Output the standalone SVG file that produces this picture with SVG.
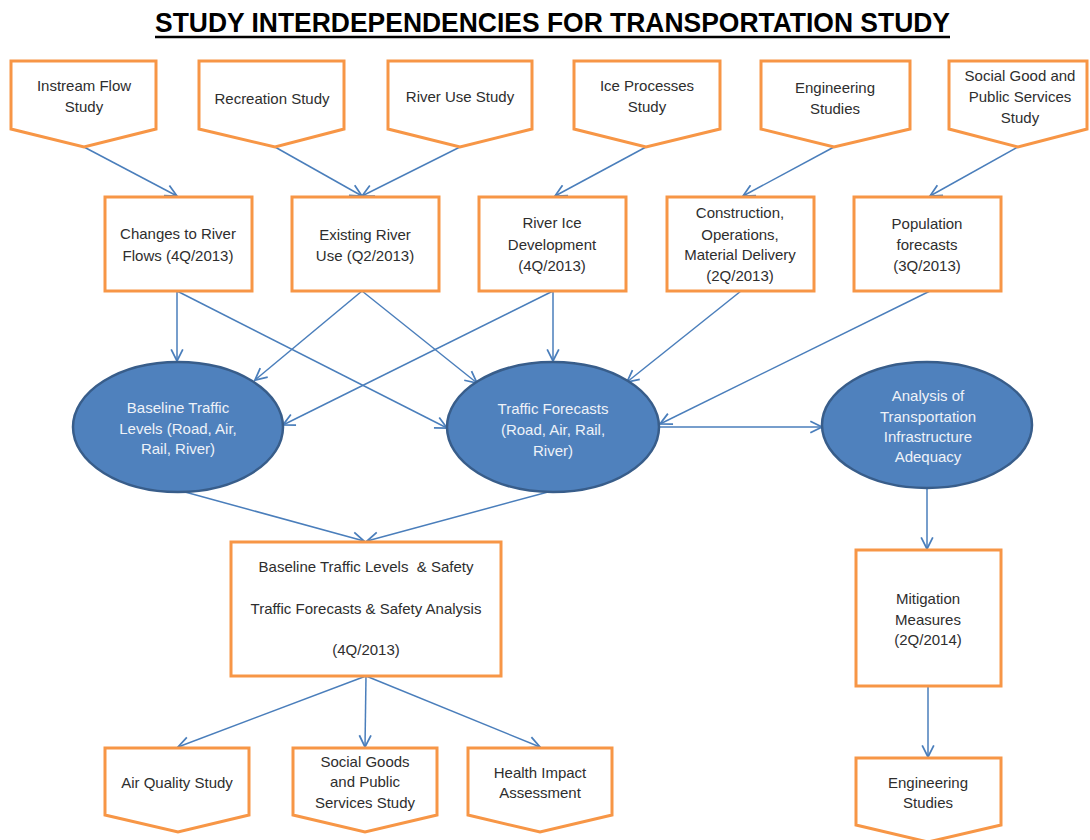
<svg xmlns="http://www.w3.org/2000/svg" width="1090" height="840" viewBox="0 0 1090 840">
<style>
.box{fill:#fff;stroke:#f79646;stroke-width:3;stroke-linejoin:miter}
.ell{fill:#4f81bd;stroke:#385d8a;stroke-width:2.5}
.t{font-family:"Liberation Sans",Arial,sans-serif;font-size:15px;fill:#2e2e2e;text-anchor:middle}
.w{font-family:"Liberation Sans",Arial,sans-serif;font-size:15px;fill:#eef2f8;text-anchor:middle}
.c{fill:none;stroke:#4a7ebb;stroke-width:1.5;marker-end:url(#ah)}
</style>
<defs>
<marker id="ah" markerUnits="userSpaceOnUse" markerWidth="14" markerHeight="14" viewBox="0 0 12 12" refX="11" refY="6" orient="auto">
<path d="M1,1 L11,6 L1,11" fill="none" stroke="#4a7ebb" stroke-width="1.5"/>
</marker>
</defs>
<rect width="1090" height="840" fill="#fff"/>
<g id="title">
<text x="155" y="32" textLength="795" lengthAdjust="spacingAndGlyphs" style="font-family:'Liberation Sans',Arial,sans-serif;font-size:27px;font-weight:bold;fill:#000">STUDY INTERDEPENDENCIES FOR TRANSPORTATION STUDY</text>
<line x1="155" y1="37" x2="950" y2="37" stroke="#000" stroke-width="2.5"/>
</g>
<g id="connectors">
<line class="c" x1="84" y1="147" x2="177" y2="196"/>
<line class="c" x1="275" y1="147" x2="362" y2="196"/>
<line class="c" x1="460" y1="147" x2="362" y2="196"/>
<line class="c" x1="646" y1="147" x2="555" y2="196"/>
<line class="c" x1="834" y1="147" x2="743" y2="196"/>
<line class="c" x1="1018" y1="147" x2="930" y2="196"/>
<line class="c" x1="177" y1="291" x2="177" y2="361"/>
<line class="c" x1="177" y1="291" x2="447" y2="428"/>
<line class="c" x1="362" y1="291" x2="255" y2="380"/>
<line class="c" x1="362" y1="291" x2="477" y2="383"/>
<line class="c" x1="553" y1="291" x2="283" y2="425"/>
<line class="c" x1="553" y1="291" x2="553" y2="361"/>
<line class="c" x1="741" y1="291" x2="627" y2="382"/>
<line class="c" x1="930" y1="291" x2="660" y2="424"/>
<line class="c" x1="660" y1="427" x2="822" y2="427"/>
<line class="c" x1="185" y1="492" x2="364" y2="541"/>
<line class="c" x1="548" y1="492" x2="367" y2="541"/>
<line class="c" x1="366" y1="676" x2="178" y2="747"/>
<line class="c" x1="366" y1="676" x2="365" y2="747"/>
<line class="c" x1="366" y1="676" x2="540" y2="747"/>
<line class="c" x1="927" y1="488" x2="927" y2="549"/>
<line class="c" x1="928" y1="686" x2="928" y2="757"/>
</g>
<g id="instream-flow-study">
<path class="box" d="M11,61 H156 V129 L84,147 L11,129 Z"/>
<text class="t" x="84" y="91">Instream Flow</text>
<text class="t" x="84" y="112">Study</text>
</g>
<g id="recreation-study">
<path class="box" d="M199,61 H344 V129 L275,147 L199,129 Z"/>
<text class="t" x="272" y="104">Recreation Study</text>
</g>
<g id="river-use-study">
<path class="box" d="M388,61 H532 V129 L460,147 L388,129 Z"/>
<text class="t" x="460" y="102">River Use Study</text>
</g>
<g id="ice-processes-study">
<path class="box" d="M574,61 H720 V129 L646,147 L574,129 Z"/>
<text class="t" x="647" y="91">Ice Processes</text>
<text class="t" x="647" y="112">Study</text>
</g>
<g id="engineering-studies-top">
<path class="box" d="M761,61 H910 V129 L834,147 L761,129 Z"/>
<text class="t" x="835" y="93">Engineering</text>
<text class="t" x="835" y="114">Studies</text>
</g>
<g id="social-good-study">
<path class="box" d="M949,61 H1087 V129 L1018,147 L949,129 Z"/>
<text class="t" x="1020" y="81">Social Good and</text>
<text class="t" x="1020" y="102">Public Services</text>
<text class="t" x="1020" y="123">Study</text>
</g>
<g id="changes-river-flows">
<rect class="box" x="105" y="197" width="147" height="94"/>
<text class="t" x="178" y="239">Changes to River</text>
<text class="t" x="178" y="261">Flows (4Q/2013)</text>
</g>
<g id="existing-river-use">
<rect class="box" x="292" y="197" width="147" height="94"/>
<text class="t" x="365" y="240">Existing River</text>
<text class="t" x="365" y="261">Use (Q2/2013)</text>
</g>
<g id="river-ice-development">
<rect class="box" x="479" y="197" width="147" height="94"/>
<text class="t" x="552" y="228">River Ice</text>
<text class="t" x="552" y="250">Development</text>
<text class="t" x="552" y="271">(4Q/2013)</text>
</g>
<g id="construction-operations">
<rect class="box" x="667" y="197" width="147" height="94"/>
<text class="t" x="740" y="218">Construction,</text>
<text class="t" x="740" y="240">Operations,</text>
<text class="t" x="740" y="260">Material Delivery</text>
<text class="t" x="740" y="281">(2Q/2013)</text>
</g>
<g id="population-forecasts">
<rect class="box" x="854" y="197" width="147" height="94"/>
<text class="t" x="927" y="229">Population</text>
<text class="t" x="927" y="250">forecasts</text>
<text class="t" x="927" y="271">(3Q/2013)</text>
</g>
<g id="baseline-traffic-levels">
<ellipse class="ell" cx="178" cy="427" rx="105" ry="65"/>
<text class="w" x="178" y="413">Baseline Traffic</text>
<text class="w" x="178" y="434">Levels (Road, Air,</text>
<text class="w" x="178" y="454">Rail, River)</text>
</g>
<g id="traffic-forecasts">
<ellipse class="ell" cx="553" cy="427" rx="106" ry="65"/>
<text class="w" x="553" y="414">Traffic Forecasts</text>
<text class="w" x="553" y="435">(Road, Air, Rail,</text>
<text class="w" x="553" y="456">River)</text>
</g>
<g id="analysis-infrastructure">
<ellipse class="ell" cx="927" cy="425" rx="105" ry="63"/>
<text class="w" x="928" y="401">Analysis of</text>
<text class="w" x="928" y="422">Transportation</text>
<text class="w" x="928" y="442">Infrastructure</text>
<text class="w" x="928" y="462">Adequacy</text>
</g>
<g id="baseline-safety-analysis">
<rect class="box" x="231" y="542" width="270" height="134"/>
<text class="t" x="366" y="572" xml:space="preserve">Baseline Traffic Levels  &amp; Safety</text>
<text class="t" x="366" y="614">Traffic Forecasts &amp; Safety Analysis</text>
<text class="t" x="366" y="655">(4Q/2013)</text>
</g>
<g id="mitigation-measures">
<rect class="box" x="856" y="550" width="145" height="136"/>
<text class="t" x="928" y="604">Mitigation</text>
<text class="t" x="928" y="625">Measures</text>
<text class="t" x="928" y="645">(2Q/2014)</text>
</g>
<g id="air-quality-study">
<path class="box" d="M105,748 H249 V815 L178,832 L105,815 Z"/>
<text class="t" x="177" y="788">Air Quality Study</text>
</g>
<g id="social-goods-study">
<path class="box" d="M293,748 H437 V815 L365,832 L293,815 Z"/>
<text class="t" x="365" y="767">Social Goods</text>
<text class="t" x="365" y="787">and Public</text>
<text class="t" x="365" y="808">Services Study</text>
</g>
<g id="health-impact-assessment">
<path class="box" d="M468,748 H612 V815 L540,832 L468,815 Z"/>
<text class="t" x="540" y="778">Health Impact</text>
<text class="t" x="540" y="798">Assessment</text>
</g>
<g id="engineering-studies-bottom">
<path class="box" d="M856,758 H1001 V825 L928,842 L856,825 Z"/>
<text class="t" x="928" y="788">Engineering</text>
<text class="t" x="928" y="808">Studies</text>
</g>
</svg>
